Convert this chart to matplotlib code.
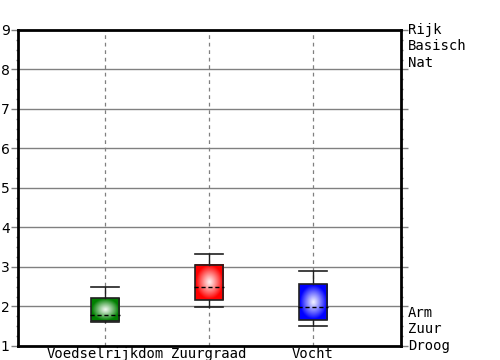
import matplotlib.pyplot as plt
import matplotlib.transforms as mtransforms
from matplotlib.patches import Rectangle
import numpy as np

# data
categories = ['Voedselrijkdom', 'Zuurgraad', 'Vocht']
colors = [(0.0, 0.5, 0.0), (1.0, 0.0, 0.0), (0.0, 0.0, 1.0)]
box_low = [1.63, 2.16, 1.66]
box_high = [2.21, 3.05, 2.57]
whisk_low = [1.60, 1.99, 1.51]
whisk_high = [2.49, 3.33, 2.90]
means = [1.78, 2.49, 1.99]
top_labels = ['Rijk', 'Basisch', 'Nat']
bottom_labels = ['Arm', 'Zuur', 'Droog']

fig = plt.figure(figsize=(5, 3.6), dpi=100)
ax = fig.add_axes([0.036, 0.039, 0.766, 0.878])

pos = np.arange(1, len(categories) + 1)
half = 0.135

# grid
for y in range(2, 9):
    ax.axhline(y, color='#808080', lw=1, zorder=1)
for x in pos:
    ax.axvline(x, color='#808080', lw=0.9, ls=(0, (3, 3)), zorder=1)

# radial gradient used for the boxes
n = 80
gx, gy = np.meshgrid(np.linspace(-1, 1, n), np.linspace(-1, 1, n))
r = np.clip(np.sqrt(gx**2 + gy**2) * 1.05, 0, 1)
shade = r ** 1.1

for i, x in enumerate(pos):
    c = np.array(colors[i])
    img = np.ones((n, n, 3)) * (1 - shade[..., None]) * 0.95 + c * shade[..., None]
    img = np.clip(img + c * (1 - shade[..., None]) * 0.05, 0, 1)
    ax.imshow(img, extent=[x - half, x + half, box_low[i], box_high[i]],
              aspect='auto', zorder=3, interpolation='bilinear')
    rect = Rectangle((x - half, box_low[i]), 2 * half, box_high[i] - box_low[i],
                     fill=False, edgecolor='#202020', lw=1.2, zorder=4)
    ax.add_patch(rect)
    # whiskers
    ax.plot([x, x], [box_high[i], whisk_high[i]], color='#202020', lw=1, zorder=4)
    ax.plot([x, x], [whisk_low[i], box_low[i]], color='#202020', lw=1, zorder=4)
    ax.plot([x - half, x + half], [whisk_high[i]] * 2, color='#202020', lw=1.2, zorder=4)
    ax.plot([x - half, x + half], [whisk_low[i]] * 2, color='#202020', lw=1.2, zorder=4)
    # mean
    ax.plot([x - half - 0.01, x + half + 0.01], [means[i]] * 2, color='black',
            lw=1, ls=(0, (3, 2)), zorder=5)

ax.set_xlim(1 - 0.837, 3 + 0.846)
ax.set_ylim(1, 9)
ax.set_xticks(pos)
ax.set_xticklabels(categories, family='DejaVu Sans Mono', fontsize=10)
ax.set_yticks(range(1, 10))
ax.set_yticks(np.arange(1, 9.01, 0.25), minor=True)
ax.tick_params(axis='x', length=0, pad=1)
ax.tick_params(axis='y', which='major', length=5, width=1, labelsize=10, pad=1,
               right=True, direction='out', color='#808080')
ax.tick_params(axis='y', which='minor', length=1.5, width=1, right=True,
               direction='out', color='#808080')
for s in ax.spines.values():
    s.set_linewidth(2)

trans = mtransforms.blended_transform_factory(ax.transAxes, ax.transData)
step = 16.5 / 39.5
for k, lab in enumerate(top_labels):
    ax.text(1.018, 9 - k * step, lab, transform=trans, family='DejaVu Sans Mono',
            fontsize=10, va='center', ha='left', clip_on=False)
for k, lab in enumerate(bottom_labels):
    ax.text(1.018, 1 + (2 - k) * step, lab, transform=trans, family='DejaVu Sans Mono',
            fontsize=10, va='center', ha='left', clip_on=False)

fig.savefig('out.png', dpi=100)
